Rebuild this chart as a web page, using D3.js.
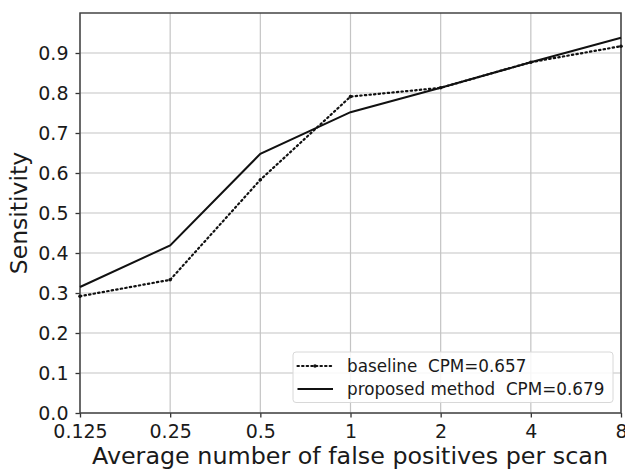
<!DOCTYPE html>
<html>
<head>
<meta charset="utf-8">
<script src="https://cdn.jsdelivr.net/npm/d3@7"></script>
<style>
  body { margin: 0; background: #fff; }
  text { font-family: "DejaVu Sans", sans-serif; fill: #1a1a1a; white-space: pre; }
</style>
</head>
<body>
<div id="chart"></div>
<script>
const W = 625, H = 469;
const MARGIN = { LEFT: 80, RIGHT: 4, TOP: 13, BOTTOM: 56 };
const WIDTH = W - MARGIN.LEFT - MARGIN.RIGHT;
const HEIGHT = H - MARGIN.TOP - MARGIN.BOTTOM;

// data
const fpLabels = ['0.125', '0.25', '0.5', '1', '2', '4', '8'];
const baseline = [0.292, 0.333, 0.583, 0.791, 0.813, 0.877, 0.917];
const proposed = [0.315, 0.419, 0.648, 0.752, 0.813, 0.877, 0.938];
const yTicks = [0.0, 0.1, 0.2, 0.3, 0.4, 0.5, 0.6, 0.7, 0.8, 0.9];
const seriesNames = ['baseline  CPM=0.657', 'proposed method  CPM=0.679'];

const svg = d3.select("#chart").append("svg")
    .attr("width", W).attr("height", H);
const g = svg.append("g")
    .attr("transform", `translate(${MARGIN.LEFT}, ${MARGIN.TOP})`);

const x = d3.scalePoint().domain(fpLabels).range([0, WIDTH]);
const y = d3.scaleLinear().domain([0, 1.0]).range([HEIGHT, 0]);

// grid
g.append("g").selectAll("line").data(fpLabels).enter().append("line")
    .attr("x1", d => x(d)).attr("x2", d => x(d))
    .attr("y1", 0).attr("y2", HEIGHT)
    .attr("stroke", "#c4c4c4").attr("stroke-width", 1.2);
g.append("g").selectAll("line").data(yTicks).enter().append("line")
    .attr("x1", 0).attr("x2", WIDTH)
    .attr("y1", d => y(d)).attr("y2", d => y(d))
    .attr("stroke", "#c4c4c4").attr("stroke-width", 1.2);

// axes
const xAxis = g.append("g")
    .attr("transform", `translate(0, ${HEIGHT})`)
    .call(d3.axisBottom(x).tickSize(4.5).tickPadding(7));
const yAxis = g.append("g")
    .call(d3.axisLeft(y).tickValues(yTicks).tickFormat(d3.format(".1f")).tickSize(4.5).tickPadding(7));
[xAxis, yAxis].forEach(a => {
    a.select(".domain").remove();
    a.selectAll("line").attr("stroke", "#333").attr("stroke-width", 1.3);
    a.selectAll("text").style("font-size", "19px").attr("fill", "#1a1a1a");
});

// frame
g.append("rect")
    .attr("width", WIDTH).attr("height", HEIGHT)
    .attr("fill", "none").attr("stroke", "#444").attr("stroke-width", 1.5);

// lines
const line = d3.line().x((d, i) => x(fpLabels[i])).y(d => y(d));
g.append("path").datum(baseline)
    .attr("d", line).attr("fill", "none")
    .attr("stroke", "#111").attr("stroke-width", 2.2)
    .attr("stroke-dasharray", "1.4,3.2").attr("stroke-linecap", "round");
g.append("g").selectAll("circle").data(baseline).enter().append("circle")
    .attr("cx", (d, i) => x(fpLabels[i])).attr("cy", d => y(d))
    .attr("r", 1.8).attr("fill", "#111");
g.append("path").datum(proposed)
    .attr("d", line).attr("fill", "none")
    .attr("stroke", "#111").attr("stroke-width", 2);

// legend
const leg = g.append("g").attr("transform", `translate(213, 339)`);
leg.append("rect")
    .attr("width", 320).attr("height", 50.5).attr("rx", 3)
    .attr("fill", "#fff").attr("fill-opacity", 0.85)
    .attr("stroke", "#d8d8d8").attr("stroke-width", 1);
seriesNames.forEach((name, i) => {
    const cy = 14 + i * 23;
    const l = leg.append("line")
        .attr("x1", 4.5).attr("x2", 40).attr("y1", cy).attr("y2", cy)
        .attr("stroke", "#111").attr("stroke-width", i === 0 ? 2.2 : 2);
    if (i === 0) l.attr("stroke-dasharray", "1.4,3.2").attr("stroke-linecap", "round");
    leg.append("circle").attr("cx", 22).attr("cy", cy).attr("r", i === 0 ? 1.8 : 1).attr("fill", "#111");
    leg.append("text")
        .attr("x", 54).attr("y", cy).attr("dy", "0.36em")
        .style("font-size", "16.8px").text(name);
});

// axis titles
svg.append("text")
    .attr("x", 350).attr("y", 464)
    .attr("text-anchor", "middle").style("font-size", "23.8px")
    .text("Average number of false positives per scan");
svg.append("text")
    .attr("transform", `translate(27, ${MARGIN.TOP + HEIGHT / 2}) rotate(-90)`)
    .attr("text-anchor", "middle").style("font-size", "23.5px")
    .text("Sensitivity");
</script>
</body>
</html>
